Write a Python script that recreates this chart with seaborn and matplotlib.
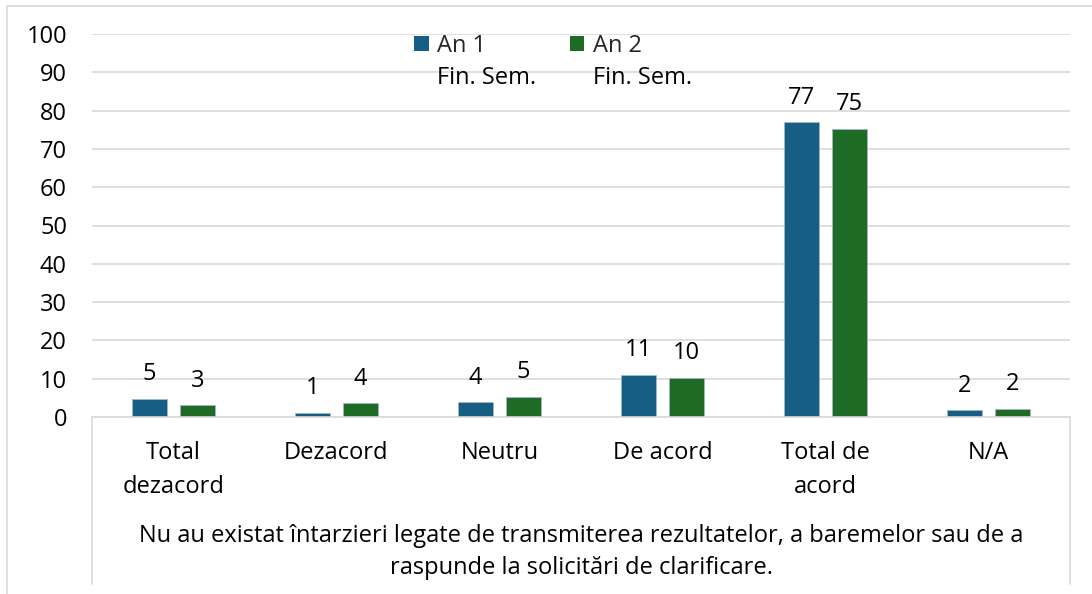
import matplotlib.pyplot as plt
import matplotlib.lines as mlines
import matplotlib.patches as mpatches
import pandas as pd
import seaborn as sns

# Data
categories = ["Total\ndezacord", "Dezacord", "Neutru", "De acord", "Total de\nacord", "N/A"]
series_names = ["An 1\nFin. Sem.", "An 2\nFin. Sem."]
an1_values = [4.8, 1.1, 3.9, 11.0, 77.0, 1.8]
an2_values = [3.1, 3.6, 5.3, 10.2, 75.2, 2.1]
an1_labels = ["5", "1", "4", "11", "77", "2"]
an2_labels = ["3", "4", "5", "10", "75", "2"]
group_title = ("Nu au existat întarzieri legate de transmiterea rezultatelor, a baremelor sau de a\n"
               "raspunde la solicitări de clarificare.")

colors = ["#165E83", "#1E6B26"]
grid_color = "#D9D9D9"

df = pd.DataFrame({
    "cat": categories * 2,
    "series": [series_names[0]] * 6 + [series_names[1]] * 6,
    "value": an1_values + an2_values,
})

sns.set_theme(style="white")
plt.rcParams["font.family"] = ["Open Sans", "DejaVu Sans"]
fs = 17

W, H = 1092, 594
fig = plt.figure(figsize=(W / 100, H / 100), dpi=100)
ax = fig.add_axes([92 / W, 1 - 417 / H, (1070 - 92) / W, (417 - 34) / H])

sns.barplot(data=df, x="cat", y="value", hue="series", order=categories,
            hue_order=series_names, palette=colors, width=0.59, gap=0.27,
            errorbar=None, legend=False, ax=ax, saturation=1,
            edgecolor="#9fb8c8", linewidth=0.6)

for cont, labs in zip(ax.containers, [an1_labels, an2_labels]):
    ax.bar_label(cont, labels=labs, padding=9, fontsize=fs, color="#000000")

ax.set_ylim(0, 100)
ax.set_yticks(range(0, 101, 10))
ax.set_xlim(-0.5, 5.5)
ax.yaxis.grid(True, color=grid_color, linewidth=1.2)
ax.set_axisbelow(True)
for s in ["top", "right", "left"]:
    ax.spines[s].set_visible(False)
ax.spines["bottom"].set_color(grid_color)
ax.spines["bottom"].set_linewidth(1.2)
ax.tick_params(axis="y", length=0, pad=18, labelsize=fs, labelcolor="#000000")
ax.tick_params(axis="x", length=0, pad=17, labelsize=fs, labelcolor="#000000")
for t in ax.get_xticklabels():
    t.set_linespacing(1.55)
ax.set_xlabel("")
ax.set_ylabel("")

# multi-level category box
box_depth = (584 - 417) / (417 - 34)
for xa in [0, 1]:
    ax.add_line(mlines.Line2D([xa, xa], [0, -box_depth], transform=ax.transAxes,
                              color=grid_color, linewidth=1.2, clip_on=False))
ax.text(0.5, -(552 - 417) / (417 - 34), group_title, transform=ax.transAxes,
        ha="center", va="center", fontsize=fs, linespacing=1.48, color="#000000")

# legend: squares next to the first line, second line underneath
first_lines = [s.split("\n")[0] for s in series_names]
second_lines = [s.split("\n")[1] for s in series_names]
handles = [mpatches.Patch(facecolor=c, edgecolor="none") for c in colors]
leg = fig.legend(handles, first_lines, loc="upper left", bbox_to_anchor=(414 / W, 1 - 34 / H),
                 ncol=2, frameon=False, fontsize=fs, handlelength=0.62, handleheight=0.62,
                 handletextpad=0.35, columnspacing=3.55, borderaxespad=0, borderpad=0)
fig.canvas.draw()
inv = fig.transFigure.inverted()
for t, extra in zip(leg.get_texts(), second_lines):
    bb = t.get_window_extent()
    x0, y0 = inv.transform((bb.x0, bb.y0))
    fig.text(x0, y0 - 32 / H, extra, ha="left", va="bottom", fontsize=fs, color="#000000")

# outer chart border
fig.add_artist(mlines.Line2D([7 / W, 7 / W], [0, 1 - 5.5 / H], color=grid_color, linewidth=1.2))
fig.add_artist(mlines.Line2D([7 / W, 1], [1 - 5.5 / H, 1 - 5.5 / H], color=grid_color, linewidth=1.2))

fig.savefig("out.png", dpi=100)
